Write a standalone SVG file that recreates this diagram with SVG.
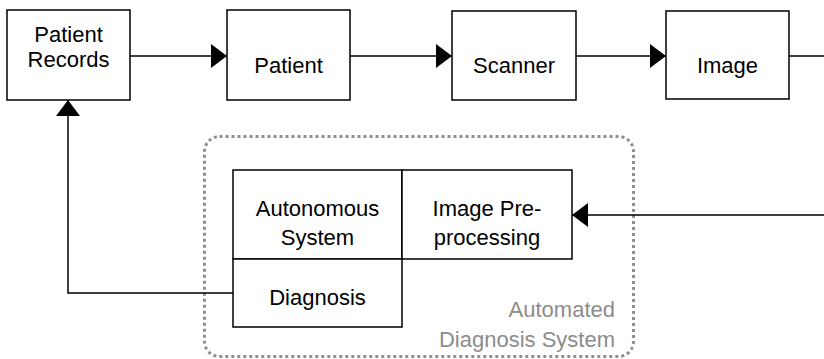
<svg xmlns="http://www.w3.org/2000/svg" width="824" height="359" viewBox="0 0 824 359">
  <style>
    .box { fill: #ffffff; stroke: #000000; stroke-width: 1.5; }
    .lbl { font-family: "Liberation Sans", Arial, sans-serif; font-size: 22px; fill: #000000; text-anchor: middle; }
    .edge { fill: none; stroke: #000000; stroke-width: 1.5; }
    .grp { fill: none; stroke: #8f8f8f; stroke-width: 3; stroke-dasharray: 3 3; }
    .grplbl { font-family: "Liberation Sans", Arial, sans-serif; font-size: 22px; fill: #8c8c8c; text-anchor: end; }
  </style>
  <defs>
    <marker id="arrow" markerUnits="userSpaceOnUse" markerWidth="16" markerHeight="24" refX="16" refY="12" orient="auto">
      <path d="M0,0 L16,12 L0,24 Z" fill="#000000"/>
    </marker>
  </defs>

  <rect fill="#ffffff" x="0" y="0" width="824" height="359"/>

  <!-- automated diagnosis system container -->
  <g id="automated-diagnosis-system">
    <rect class="grp" x="204.5" y="136.5" width="429" height="220" rx="15" ry="15"/>
    <text class="grplbl" x="615" y="317">Automated</text>
    <text class="grplbl" x="615" y="347">Diagnosis System</text>
  </g>

  <!-- connectors -->
  <g id="connectors">
    <path class="edge" d="M130,56 L227,56" marker-end="url(#arrow)"/>
    <path class="edge" d="M350,56 L452,56" marker-end="url(#arrow)"/>
    <path class="edge" d="M576,56 L666,56" marker-end="url(#arrow)"/>
    <path class="edge" d="M789,56 L824,56"/>
    <path class="edge" d="M824,215 L572,215" marker-end="url(#arrow)"/>
    <path class="edge" d="M233,293 L68,293 L68,100" marker-end="url(#arrow)"/>
  </g>

  <g id="patient-records">
    <rect class="box" x="7" y="10" width="123" height="90"/>
    <text class="lbl" x="68.5" y="42">Patient</text>
    <text class="lbl" x="68.5" y="67">Records</text>
  </g>

  <g id="patient">
    <rect class="box" x="227" y="10" width="123" height="90"/>
    <text class="lbl" x="288.5" y="73">Patient</text>
  </g>

  <g id="scanner">
    <rect class="box" x="452" y="11" width="124" height="89"/>
    <text class="lbl" x="514" y="73">Scanner</text>
  </g>

  <g id="image">
    <rect class="box" x="666" y="11" width="123" height="88"/>
    <text class="lbl" x="727.5" y="73">Image</text>
  </g>

  <g id="autonomous-system">
    <rect class="box" x="233" y="170" width="169" height="89"/>
    <text class="lbl" x="317.5" y="216">Autonomous</text>
    <text class="lbl" x="317.5" y="245">System</text>
  </g>

  <g id="image-preprocessing">
    <rect class="box" x="402" y="170" width="170" height="89"/>
    <text class="lbl" x="487" y="216">Image Pre-</text>
    <text class="lbl" x="487" y="245">processing</text>
  </g>

  <g id="diagnosis">
    <rect class="box" x="233" y="259" width="169" height="68"/>
    <text class="lbl" x="317.5" y="305">Diagnosis</text>
  </g>
</svg>
